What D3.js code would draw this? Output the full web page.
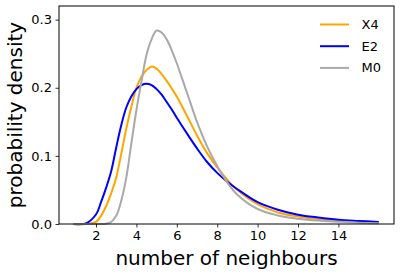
<!DOCTYPE html>
<html>
<head>
<meta charset="utf-8">
<script src="https://cdn.jsdelivr.net/npm/d3@7"></script>
<style>
	body { margin: 0; background: #fff; }
	svg { display: block; font-family: "DejaVu Sans", sans-serif; }
</style>
</head>
<body>
<div id="chart"></div>
<script>
// values
var xs = [0.9, 1.5, 2, 2.25, 2.5, 2.75, 3, 3.25, 3.5, 3.75, 4, 4.25, 4.5, 4.75, 5, 5.25, 5.5, 5.75, 6, 6.5, 7, 7.5, 8, 8.5, 9, 10, 11, 12, 13, 14, 15, 16];
var x4 = [0, 0, 0.003, 0.012, 0.026, 0.045, 0.068, 0.103, 0.140, 0.172, 0.200, 0.216, 0.226, 0.231, 0.228, 0.220, 0.210, 0.199, 0.187, 0.159, 0.130, 0.104, 0.083, 0.065, 0.050, 0.029, 0.017, 0.011, 0.007, 0.0048, 0.003, 0.002];
var e2 = [0, 0.001, 0.014, 0.032, 0.053, 0.077, 0.112, 0.145, 0.171, 0.187, 0.198, 0.204, 0.206, 0.204, 0.198, 0.190, 0.179, 0.168, 0.156, 0.133, 0.111, 0.091, 0.075, 0.062, 0.051, 0.032, 0.021, 0.0137, 0.0095, 0.0063, 0.0045, 0.003];
var m0 = [0, 0, 0, 0, 0.0005, 0.003, 0.012, 0.034, 0.068, 0.118, 0.167, 0.209, 0.248, 0.271, 0.284, 0.281, 0.271, 0.255, 0.236, 0.193, 0.150, 0.114, 0.085, 0.061, 0.043, 0.022, 0.0125, 0.0078, 0.005, 0.0034, 0.002, 0.0012];
var seriesNames = ["X4", "E2", "M0"];
var seriesColors = ["orange", "blue", "darkgray"];
var xTicks = [2, 4, 6, 8, 10, 12, 14];
var yTicks = [0, 0.1, 0.2, 0.3];

var W = 401, H = 275;
var margin = {top: 6, right: 7, bottom: 51, left: 59};

var svg = d3.select("#chart").append("svg")
	.attr("width", W)
	.attr("height", H);

var xScale = d3.scaleLinear()
	.domain([0.17, 16.75])
	.range([margin.left, W - margin.right]);
var yScale = d3.scaleLinear()
	.domain([0, 0.32])
	.range([H - margin.bottom, margin.top]);

var series = [x4, e2, m0].map((ys, i) => ({
	name: seriesNames[i],
	color: seriesColors[i],
	pts: xs.map((x, j) => [x, ys[j]])
}));

var line = d3.line()
	.x(d => xScale(d[0]))
	.y(d => yScale(d[1]))
	.curve(d3.curveCatmullRom.alpha(0.5));

svg.append("g").selectAll("path")
	.data(series)
	.enter()
	.append("path")
	.attr("d", d => line(d.pts))
	.attr("fill", "none")
	.attr("stroke", d => d.color)
	.attr("stroke-width", 2);

// axes
var xAxis = svg.append("g")
	.attr("transform", `translate(0,${H - margin.bottom})`)
	.call(d3.axisBottom(xScale).tickValues(xTicks).tickSize(3.5).tickPadding(3.5).tickFormat(d3.format("d")));
var yAxis = svg.append("g")
	.attr("transform", `translate(${margin.left},0)`)
	.call(d3.axisLeft(yScale).tickValues(yTicks).tickSize(3.5).tickPadding(3.5).tickFormat(d3.format(".1f")));
[xAxis, yAxis].forEach(a => {
	a.select(".domain").remove();
	a.selectAll("line").attr("stroke", "#000").attr("stroke-width", 0.8);
	a.selectAll("text")
		.attr("fill", "#000")
		.style("font-family", "DejaVu Sans")
		.style("font-size", "13px");
});

// frame
svg.append("rect")
	.attr("x", margin.left)
	.attr("y", margin.top)
	.attr("width", W - margin.left - margin.right)
	.attr("height", H - margin.top - margin.bottom)
	.attr("fill", "none")
	.attr("stroke", "#000")
	.attr("stroke-width", 1);

// labels
svg.append("text")
	.attr("x", (margin.left + W - margin.right) / 2)
	.attr("y", 265)
	.attr("text-anchor", "middle")
	.style("font-size", "20px")
	.text("number of neighbours");
svg.append("text")
	.attr("transform", `translate(22,${(margin.top + H - margin.bottom) / 2}) rotate(-90)`)
	.attr("text-anchor", "middle")
	.style("font-size", "20px")
	.text("probability density");

// legend, no frame
var legend = svg.append("g").selectAll("g")
	.data(series)
	.enter()
	.append("g")
	.attr("transform", (d, i) => `translate(320,${24.5 + i * 21.7})`);
legend.append("line")
	.attr("x1", 0).attr("x2", 29)
	.attr("stroke", d => d.color)
	.attr("stroke-width", 2);
legend.append("text")
	.attr("x", 41.5)
	.attr("dy", "0.35em")
	.style("font-size", "13px")
	.text(d => d.name);
</script>
</body>
</html>
